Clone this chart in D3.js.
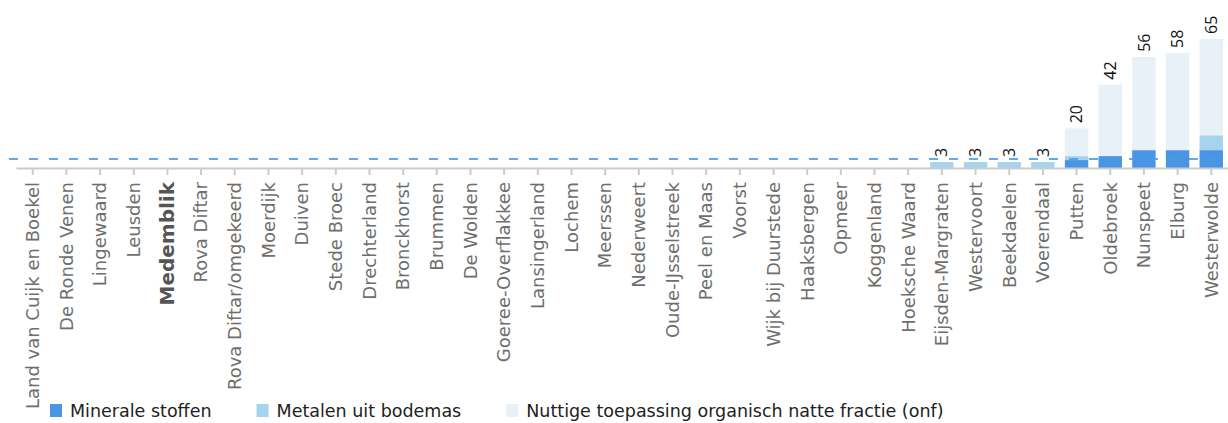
<!DOCTYPE html>
<html>
<head>
<meta charset="utf-8">
<script src="https://cdn.jsdelivr.net/npm/d3@7"></script>
<style>
  html, body { margin: 0; padding: 0; background: #fff; }
  svg { display: block; font-family: "DejaVu Sans", Verdana, sans-serif; }
</style>
</head>
<body>
<svg id="chart" width="1228" height="423"></svg>
<script>
// Gemeenten (x-as)
const gemeenten = [
  "Land van Cuijk en Boekel", "De Ronde Venen", "Lingewaard", "Leusden", "Medemblik",
  "Rova Diftar", "Rova Diftar/omgekeerd", "Moerdijk", "Duiven", "Stede Broec",
  "Drechterland", "Bronckhorst", "Brummen", "De Wolden", "Goeree-Overflakkee",
  "Lansingerland", "Lochem", "Meerssen", "Nederweert", "Oude-IJsselstreek",
  "Peel en Maas", "Voorst", "Wijk bij Duurstede", "Haaksbergen", "Opmeer",
  "Koggenland", "Hoeksche Waard", "Eijsden-Margraten", "Westervoort", "Beekdaelen",
  "Voerendaal", "Putten", "Oldebroek", "Nunspeet", "Elburg", "Westerwolde"
];
const uitgelicht = "Medemblik";

// Waarden per reeks (kg per inwoner)
const mineraleStoffen = [0,0,0,0,0, 0,0,0,0,0, 0,0,0,0,0, 0,0,0,0,0, 0,0,0,0,0, 0,0, 0,0,0,0, 4,6,9,9,9];
const metalenUitBodemas = [0,0,0,0,0, 0,0,0,0,0, 0,0,0,0,0, 0,0,0,0,0, 0,0,0,0,0, 0,0, 3,3,3,3, 2,0,0,0,7.5];
const onf = [0,0,0,0,0, 0,0,0,0,0, 0,0,0,0,0, 0,0,0,0,0, 0,0,0,0,0, 0,0, 0,0,0,0, 14,36,47,49,48.5];

const reeksen = [
  { key: "mineraal", naam: "Minerale stoffen", kleur: "#4a94e6" },
  { key: "metalen", naam: "Metalen uit bodemas", kleur: "#a6d4ef" },
  { key: "onf", naam: "Nuttige toepassing organisch natte fractie (onf)", kleur: "#e8f1f8" }
];
const referentie = 4.5;
const yMax = 65;

const rows = gemeenten.map((g, i) => ({
  gemeente: g,
  mineraal: mineraleStoffen[i],
  metalen: metalenUitBodemas[i],
  onf: onf[i]
}));
rows.forEach(r => { r.totaal = r.mineraal + r.metalen + r.onf; });

const svg = d3.select("#chart");
const axisY = 168;

const x = d3.scaleBand().domain(gemeenten).range([16, 1228]).paddingInner(0.305).paddingOuter(0.15);
const y = d3.scaleLinear().domain([0, yMax]).range([axisY, 39]);

const series = d3.stack().keys(reeksen.map(s => s.key))(rows);

// Gestapelde staven
svg.append("g").selectAll("g")
  .data(series)
  .join("g")
  .attr("fill", (d, i) => reeksen[i].kleur)
  .selectAll("rect")
  .data(d => d.filter(p => p[1] - p[0] > 0))
  .join("rect")
  .attr("x", p => x(p.data.gemeente))
  .attr("width", x.bandwidth())
  .attr("y", p => y(p[1]))
  .attr("height", p => y(p[0]) - y(p[1]));

// X-as
const xAxis = d3.axisBottom(x).tickSize(7).tickSizeOuter(0).tickPadding(7);
const gx = svg.append("g").attr("transform", `translate(0,${axisY})`).call(xAxis);
gx.select(".domain").attr("stroke", "#cccccc").attr("stroke-width", 2);
gx.selectAll(".tick line").attr("stroke", "#cccccc").attr("stroke-width", 2);
gx.selectAll(".tick text")
  .attr("transform", "rotate(-90)")
  .attr("text-anchor", "end")
  .attr("x", -14)
  .attr("y", 0)
  .attr("dy", "0.35em")
  .attr("fill", d => d === uitgelicht ? "#555555" : "#6e6e6e")
  .attr("font-size", d => d === uitgelicht ? 20 : 18)
  .attr("font-weight", d => d === uitgelicht ? "bold" : "normal")
  .attr("font-family", '"DejaVu Sans", Verdana, sans-serif');

// Referentielijn
svg.append("line")
  .attr("x1", 9).attr("x2", 1228)
  .attr("y1", y(referentie)).attr("y2", y(referentie))
  .attr("stroke", "#4a9be2")
  .attr("stroke-opacity", 0.85)
  .attr("stroke-width", 2)
  .attr("stroke-dasharray", "9,11");

// Totaalwaarden boven de staven
const labels = svg.append("g").selectAll("g")
  .data(rows.filter(r => r.totaal > 0))
  .join("g")
  .attr("transform", r => `translate(${x(r.gemeente) + x.bandwidth() / 2},${y(r.totaal) - 5})`);
labels.append("text")
  .attr("transform", "rotate(-90)")
  .attr("dy", "0.35em")
  .attr("text-anchor", "start")
  .attr("font-family", '"Open Sans", sans-serif')
  .attr("font-size", 16)
  .attr("fill", "#111")
  .text(r => d3.format("d")(r.totaal));

// Legenda
const legend = svg.append("g").attr("transform", "translate(50,404)");
let lx = 0;
reeksen.forEach(s => {
  const item = legend.append("g").attr("transform", `translate(${lx},0)`);
  item.append("rect").attr("width", 12).attr("height", 13).attr("fill", s.kleur);
  const t = item.append("text")
    .attr("x", 20).attr("y", 13)
    .attr("font-size", 17.5)
    .attr("fill", "#222")
    .text(s.naam);
  lx += 20 + t.node().getComputedTextLength() + 45;
});
</script>
</body>
</html>
